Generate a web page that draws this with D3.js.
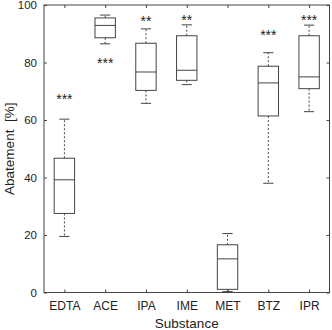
<!DOCTYPE html>
<html>
<head>
<meta charset="utf-8">
<script src="https://cdn.jsdelivr.net/npm/d3@7"></script>
<style>
  body { margin: 0; background: #fff; }
  text { font-family: "Liberation Sans", Arial, sans-serif; fill: #222; }
</style>
</head>
<body>
<svg id="mainsvg" width="332" height="330"></svg>
<script>
// substances on the x axis
const substances = ['EDTA', 'ACE', 'IPA', 'IME', 'MET', 'BTZ', 'IPR'];
// box statistics (abatement %)
const whiskerLow  = [19.5, 86.5, 65.8, 72.3, 0.3, 38.0, 62.9];
const q1          = [27.5, 88.6, 70.3, 73.8, 1.1, 61.4, 70.9];
const medians     = [39.2, 92.9, 76.7, 77.3, 11.7, 72.9, 75.0];
const q3          = [46.7, 95.5, 86.7, 89.3, 16.6, 78.7, 89.3];
const whiskerHigh = [60.3, 96.5, 91.7, 93.1, 20.5, 83.4, 93.0];
// significance marks and the level they sit at
const stars      = ['***', '***', '**', '**', '', '***', '***'];
const starLevels = [68.3, 80.9, 95.6, 95.9, 0, 90.5, 95.7];
const yTicks = [0, 20, 40, 60, 80, 100];

const svg = d3.select('#mainsvg');
const margin = {top: 5, right: 2.5, bottom: 37.5, left: 44};
const width = +svg.attr('width') - margin.left - margin.right;
const height = +svg.attr('height') - margin.top - margin.bottom;
const g = svg.append('g').attr('transform', `translate(${margin.left},${margin.top})`);

const data = substances.map((s, i) => ({
  name: s, lo: whiskerLow[i], q1: q1[i], med: medians[i], q3: q3[i], hi: whiskerHigh[i],
  star: stars[i], starY: starLevels[i]
}));

const x = d3.scalePoint().domain(substances).range([0, width]).padding(0.5);
const y = d3.scaleLinear().domain([0, 100]).range([height, 0]);
const step = x.step();
const boxW = step * 0.5;
const capW = step * 0.25;
const stroke = '#444';

// axes with inward ticks, MATLAB style
const tickLen = 3;
g.append('g').attr('transform', `translate(0,${height})`)
  .call(d3.axisBottom(x).tickSizeInner(-tickLen).tickSizeOuter(0).tickPadding(9))
  .call(a => a.select('.domain').remove())
  .call(a => a.selectAll('line').attr('stroke', stroke))
  .call(a => a.selectAll('text').style('font-size', '12px').style('font-family', '"Liberation Sans", Arial, sans-serif').attr('fill', '#222'));
g.append('g').attr('transform', 'translate(0,0)')
  .call(d3.axisTop(x).tickSizeInner(-tickLen).tickSizeOuter(0).tickFormat(''))
  .call(a => a.select('.domain').remove())
  .call(a => a.selectAll('line').attr('stroke', stroke));
g.append('g')
  .call(d3.axisLeft(y).tickValues(yTicks).tickSizeInner(-tickLen).tickSizeOuter(0).tickPadding(7))
  .call(a => a.select('.domain').remove())
  .call(a => a.selectAll('line').attr('stroke', stroke))
  .call(a => a.selectAll('text').style('font-size', '11.5px').style('font-family', '"Liberation Sans", Arial, sans-serif').attr('fill', '#222'));
g.append('g').attr('transform', `translate(${width},0)`)
  .call(d3.axisRight(y).tickValues(yTicks).tickSizeInner(-tickLen).tickSizeOuter(0).tickFormat(''))
  .call(a => a.select('.domain').remove())
  .call(a => a.selectAll('line').attr('stroke', stroke));

// frame
g.append('rect').attr('width', width).attr('height', height)
  .attr('fill', 'none').attr('stroke', stroke).attr('stroke-width', 1);

// boxes
const box = g.selectAll('.box').data(data).enter().append('g').attr('class', 'box')
  .attr('transform', d => `translate(${x(d.name)},0)`);

box.append('line').attr('y1', d => y(d.q3)).attr('y2', d => y(d.hi))
  .attr('stroke', stroke).attr('stroke-dasharray', '2,2');
box.append('line').attr('y1', d => y(d.q1)).attr('y2', d => y(d.lo))
  .attr('stroke', stroke).attr('stroke-dasharray', '2,2');
box.append('line').attr('x1', -capW / 2).attr('x2', capW / 2)
  .attr('y1', d => y(d.hi)).attr('y2', d => y(d.hi)).attr('stroke', stroke);
box.append('line').attr('x1', -capW / 2).attr('x2', capW / 2)
  .attr('y1', d => y(d.lo)).attr('y2', d => y(d.lo)).attr('stroke', stroke);
box.append('rect').attr('x', -boxW / 2).attr('width', boxW)
  .attr('y', d => y(d.q3)).attr('height', d => y(d.q1) - y(d.q3))
  .attr('fill', 'none').attr('stroke', stroke);
box.append('line').attr('x1', -boxW / 2).attr('x2', boxW / 2)
  .attr('y1', d => y(d.med)).attr('y2', d => y(d.med)).attr('stroke', stroke);

// significance stars
box.filter(d => d.star).append('text')
  .attr('y', d => y(d.starY) + 8)
  .attr('text-anchor', 'middle')
  .style('font-size', '14px')
  .text(d => d.star);

// axis labels
svg.append('text')
  .attr('x', margin.left + width / 2).attr('y', 328)
  .attr('text-anchor', 'middle').style('font-size', '13.5px')
  .text('Substance');
svg.append('text')
  .attr('transform', `translate(13.5,${margin.top + height / 2}) rotate(-90)`)
  .attr('text-anchor', 'middle').style('font-size', '13.5px')
  .attr('xml:space', 'preserve')
  .text('Abatement  [%]');
</script>
</body>
</html>
